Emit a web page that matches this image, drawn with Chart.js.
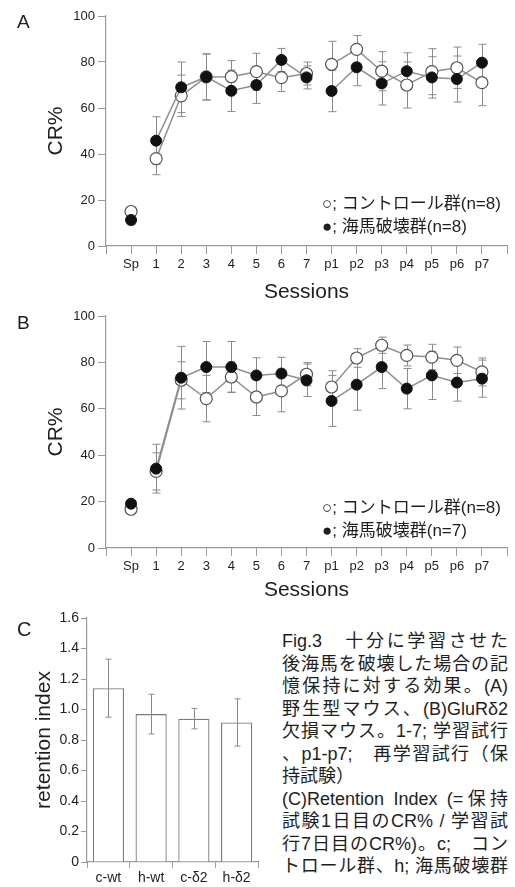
<!DOCTYPE html>
<html>
<head>
<meta charset="utf-8">
<script src="https://cdn.jsdelivr.net/npm/chart.js@4.4.0/dist/chart.umd.min.js"></script>
<style>
body { margin: 0; background: #fff; }
#wrap {
    position: relative;
    width: 515px;
    height: 887px;
    overflow: hidden;
    font-family: "Liberation Sans", "Noto Sans CJK JP", sans-serif;
    color: #1e1e1e;
}
canvas { position: absolute; left: 0; }
.letter { position: absolute; left: 17px; font-size: 19px; line-height: 1; }
.legend { position: absolute; left: 322px; font-size: 17px; line-height: 22.7px; white-space: nowrap; }
.caption { position: absolute; left: 282px; top: 630px; width: 226px; font-size: 18px; line-height: 22.5px; }
.caption div { text-align: justify; text-align-last: justify; }
.caption div.short { text-align-last: left; }
</style>
</head>
<body>
<div id="wrap">
    <canvas id="chartA" width="515" height="305" style="top:0"></canvas>
    <canvas id="chartB" width="515" height="305" style="top:300px"></canvas>
    <canvas id="chartC" width="262" height="287" style="top:600px"></canvas>

    <div class="letter" style="top:12px">A</div>
    <div class="letter" style="top:313px">B</div>
    <div class="letter" style="top:619px; font-size:20px">C</div>

    <div class="legend" style="top:193px">○; コントロール群(n=8)<br>●; 海馬破壊群(n=8)</div>
    <div class="legend" style="top:497px">○; コントロール群(n=8)<br>●; 海馬破壊群(n=7)</div>

    <div class="caption">
        <div>Fig.3　十分に学習させた</div>
        <div>後海馬を破壊した場合の記</div>
        <div>憶保持に対する効果。(A)</div>
        <div>野生型マウス、(B)GluRδ2</div>
        <div>欠損マウス。1-7; 学習試行</div>
        <div>、p1-p7;　再学習試行（保</div>
        <div class="short">持試験）</div>
        <div>(C)Retention Index (=保持</div>
        <div>試験1日目のCR% / 学習試</div>
        <div>行7日目のCR%)。c;　コン</div>
        <div>トロール群、h; 海馬破壊群</div>
    </div>
</div>

<script>
// sessions (blank slot at both ends so the axis runs past Sp and p7)
const sessions = ["", "Sp", "1", "2", "3", "4", "5", "6", "7", "p1", "p2", "p3", "p4", "p5", "p6", "p7", ""];

// A: wild type
const wtControl = [null, 15, 38, 65.3, 73.5, 73.6, 75.8, 73.2, 75, 79, 85.5, 76, 70, 75.8, 77.5, 71, null];
const wtControlErr = [null, 1.5, 7, 9, 10, 7, 8, 6, 5, 10, 6, 8.5, 10, 10, 9, 10, null];
const wtLesion = [null, 11.3, 45.8, 69, 73.5, 67.5, 70, 80.9, 73.3, 67.4, 77.7, 70.7, 76, 73.3, 72.6, 79.7, null];
const wtLesionErr = [null, 2, 10.4, 11, 10, 9, 8, 5, 5, 9, 8, 9.4, 8, 9, 10, 8, null];

// B: GluRd2 knockout
const koControl = [null, 16.7, 33, 72.3, 64.4, 73.7, 65.1, 67.7, 74.9, 69.4, 81.9, 87.4, 83, 82.3, 80.9, 75.9, null];
const koControlErr = [null, 1, 8, 8, 10, 6.5, 8, 9, 5, 7, 4, 3.5, 4.5, 5.5, 5.7, 6, null];
const koLesion = [null, 19.1, 34.2, 73.4, 78, 78, 74.4, 75.2, 72.3, 63.4, 70.4, 78, 68.7, 74.4, 71.3, 73, null];
const koLesionErr = [null, 1, 10.5, 13.5, 11, 11, 7.6, 7, 7, 11, 11, 9.3, 8.7, 10.4, 8, 8, null];

// C: retention index
const groups = ["c-wt", "h-wt", "c-δ2", "h-δ2"];
const retention = [1.14, 0.97, 0.94, 0.915];
const retentionErr = [0.19, 0.13, 0.067, 0.155];

const axisGray = "#9a9a9a";
const lineGray = "#8f8f8f";
const textColor = "#1e1e1e";

// error bars drawn with the chart's own y scale
function drawErrors(chart) {
    const ctx = chart.ctx;
    const yScale = chart.scales.y;
    chart.data.datasets.forEach((ds, i) => {
        if (!ds.errors) return;
        const meta = chart.getDatasetMeta(i);
        ctx.save();
        ctx.strokeStyle = "#8a8a8a";
        ctx.lineWidth = 1;
        meta.data.forEach((el, j) => {
            const v = ds.data[j];
            const e = ds.errors[j];
            if (v == null || e == null) return;
            const x = Math.round(el.x) + 0.5;
            const top = yScale.getPixelForValue(v + e);
            const bot = yScale.getPixelForValue(v - e);
            const w = ds.capWidth || 4;
            ctx.beginPath();
            ctx.moveTo(x, top);
            ctx.lineTo(x, bot);
            ctx.moveTo(x - w, top);
            ctx.lineTo(x + w, top);
            ctx.moveTo(x - w, bot);
            ctx.lineTo(x + w, bot);
            ctx.stroke();
        });
        ctx.restore();
    });
}

const errorBars = {
    id: "errorBars",
    beforeDatasetsDraw(chart) {
        if (chart.config.type === "line") drawErrors(chart);
    },
    afterDatasetsDraw(chart) {
        if (chart.config.type === "bar") drawErrors(chart);
    },
};

// no line from Sp to 1, none from 7 to p1
const hideGaps = (ctx) => (ctx.p0DataIndex === 1 || ctx.p0DataIndex === 8 ? "rgba(0,0,0,0)" : undefined);

function sessionChart(id, control, controlErr, lesion, lesionErr, xHeight, titlePad) {
    return new Chart(document.getElementById(id), {
        type: "line",
        data: {
            labels: sessions,
            datasets: [
                {
                    label: "lesion",
                    data: lesion,
                    errors: lesionErr,
                    order: 0,
                    borderColor: lineGray,
                    borderWidth: 1.5,
                    pointRadius: 5.5,
                    pointBackgroundColor: "#111",
                    pointBorderColor: "#111",
                    pointBorderWidth: 1,
                    segment: { borderColor: hideGaps },
                    tension: 0,
                },
                {
                    label: "control",
                    data: control,
                    errors: controlErr,
                    order: 1,
                    borderColor: lineGray,
                    borderWidth: 1.5,
                    pointRadius: 6,
                    pointBackgroundColor: "#fff",
                    pointBorderColor: "#555",
                    pointBorderWidth: 1.2,
                    segment: { borderColor: hideGaps },
                    tension: 0,
                },
            ],
        },
        options: {
            responsive: false,
            animation: false,
            devicePixelRatio: 1,
            layout: { padding: { top: 16, right: 8, bottom: 0, left: 0 } },
            scales: {
                x: {
                    type: "category",
                    offset: false,
                    grid: { offset: false, drawOnChartArea: false, tickLength: 8, color: axisGray },
                    border: { color: axisGray, width: 1.2 },
                    ticks: {
                        autoSkip: false,
                        maxRotation: 0,
                        padding: 3,
                        color: textColor,
                        font: { family: "Liberation Sans", size: 13 },
                    },
                    title: {
                        display: true,
                        text: "Sessions",
                        color: textColor,
                        font: { family: "Liberation Sans", size: 21 },
                        padding: { top: 0, bottom: titlePad },
                    },
                    afterFit: (scale) => {
                        scale.height = xHeight;
                    },
                },
                y: {
                    min: 0,
                    max: 100,
                    grid: { drawOnChartArea: false, tickLength: 8, color: axisGray },
                    border: { color: axisGray, width: 1.2 },
                    ticks: {
                        stepSize: 20,
                        padding: 3,
                        color: textColor,
                        font: { family: "Liberation Sans", size: 13 },
                    },
                    title: {
                        display: true,
                        text: "CR%",
                        color: textColor,
                        font: { family: "Liberation Sans", size: 21 },
                        padding: { top: 44, bottom: 0 },
                    },
                    afterFit: (scale) => {
                        scale.width = 106;
                    },
                },
            },
            plugins: {
                legend: { display: false },
                tooltip: { enabled: false },
            },
        },
        plugins: [errorBars],
    });
}

let chartA = sessionChart("chartA", wtControl, wtControlErr, wtLesion, wtLesionErr, 59, 0);
let chartB = sessionChart("chartB", koControl, koControlErr, koLesion, koLesionErr, 57, 2);

let chartC = new Chart(document.getElementById("chartC"), {
    type: "bar",
    data: {
        labels: groups,
        datasets: [
            {
                data: retention,
                errors: retentionErr,
                capWidth: 3,
                backgroundColor: "#fff",
                borderColor: "#7a7a7a",
                borderWidth: 1.3,
                barPercentage: 0.73,
                categoryPercentage: 1,
            },
        ],
    },
    options: {
        responsive: false,
        animation: false,
        devicePixelRatio: 1,
        layout: { padding: { top: 18, right: 4, bottom: 0, left: 0 } },
        scales: {
            x: {
                grid: { offset: true, drawOnChartArea: false, tickLength: 6, color: axisGray },
                border: { color: axisGray, width: 1.2 },
                ticks: {
                    padding: 2,
                    color: textColor,
                    font: { family: "Liberation Sans", size: 14 },
                },
                afterFit: (scale) => {
                    scale.height = 25;
                },
            },
            y: {
                min: 0,
                max: 1.6,
                grid: { drawOnChartArea: false, tickLength: 6, color: axisGray },
                border: { color: axisGray, width: 1.2 },
                ticks: {
                    stepSize: 0.2,
                    padding: 2,
                    color: textColor,
                    font: { family: "Liberation Sans", size: 14 },
                },
                title: {
                    display: true,
                    text: "retention index",
                    color: textColor,
                    font: { family: "Liberation Sans", size: 21 },
                    padding: { top: 32, bottom: 0 },
                },
                afterFit: (scale) => {
                    scale.width = 87;
                },
            },
        },
        plugins: {
            legend: { display: false },
            tooltip: { enabled: false },
        },
    },
    plugins: [errorBars],
});
</script>
</body>
</html>
